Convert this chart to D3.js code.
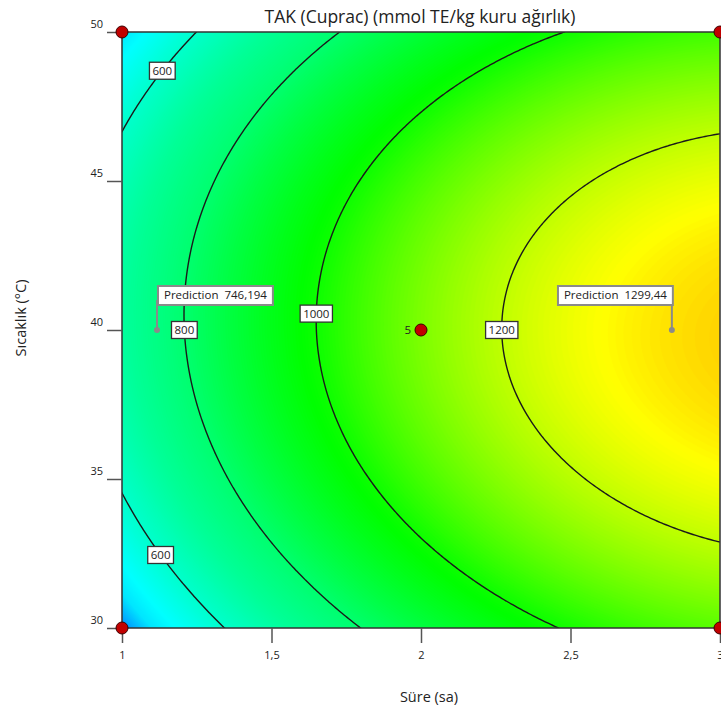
<!DOCTYPE html>
<meta charset="utf-8">
<script src="https://cdn.jsdelivr.net/npm/d3@7"></script>
<style>
  body { margin: 0; background: #fff; }
  text { font-family: "Open Sans", sans-serif; fill: #222; }
</style>
<div id="chart"></div>
<script>

// quadratic model, coded units A = (time - 2), B = (temp - 40) / 10
// order: b0, A, B, AB, A^2, B^2
var coefs = [1124.5, 312.75, 8, -21, -122.9, -244];
var levels = [600, 800, 1000, 1200];
var xTicks = [1, 1.5, 2, 2.5, 3];
var yTicks = [30, 35, 40, 45, 50];

// design points (time, temp); the centre point has 5 runs
var designTime = [1, 1, 3, 3, 2];
var designTemp = [30, 50, 30, 50, 40];
var centerRuns = "5";

// contour labels: level and the temperature where the label sits
var labelLevels = [600, 600, 800, 1000, 1200];
var labelTemps = [48.7, 32.45, 40, 40.55, 40];

// prediction flags
var predTime = [1.117, 2.839];
var predTemp = [40, 40];
var predText = ["746,194", "1299,44"];

// colour stops (response value -> hue)
var colorVals = [416, 474, 600, 700, 800, 1000, 1200, 1314];
var colorHues = [208, 186, 168, 156, 146, 117, 75, 50];

var W = 721, H = 713;
var svg = d3.select("#chart").append("svg")
    .attr("width", W).attr("height", H);

var x = d3.scaleLinear().domain([1, 3]).range([122, 720]);
var y = d3.scaleLinear().domain([30, 50]).range([628, 32]);

function model(t, c) {
  var A = t - 2, B = (c - 40) / 10;
  return coefs[0] + coefs[1] * A + coefs[2] * B + coefs[3] * A * B + coefs[4] * A * A + coefs[5] * B * B;
}

var hue = d3.scaleLinear().domain(colorVals).range(colorHues).clamp(true);
function color(v) { return d3.hsl(hue(v), 1, 0.5).toString(); }

// grid of model values
var n = 200;
var grid = new Array(n * n);
for (var j = 0; j < n; j++) {
  for (var i = 0; i < n; i++) {
    grid[j * n + i] = model(1 + i * 2 / (n - 1), 50 - j * 20 / (n - 1));
  }
}
var path = d3.geoPath(d3.geoTransform({
  point: function(px, py) {
    this.stream.point(x(1 + (px - 0.5) * 2 / (n - 1)), y(50 - (py - 0.5) * 20 / (n - 1)));
  }
}));

svg.append("clipPath").attr("id", "plotclip")
  .append("rect")
    .attr("x", x(1)).attr("y", y(50))
    .attr("width", x(3) - x(1)).attr("height", y(30) - y(50));

var plot = svg.append("g").attr("clip-path", "url(#plotclip)");

// filled surface
var bands = d3.range(400, 1320, 4);
plot.append("g")
  .selectAll("path")
  .data(d3.contours().size([n, n]).thresholds(bands)(grid))
  .enter().append("path")
    .attr("d", path)
    .attr("fill", function(d) { return color(d.value + 2); })
    .attr("stroke", function(d) { return color(d.value + 2); })
    .attr("stroke-width", 0.5);

// contour lines
plot.append("g")
  .selectAll("path")
  .data(d3.contours().size([n, n]).thresholds(levels)(grid))
  .enter().append("path")
    .attr("d", path)
    .attr("fill", "none")
    .attr("stroke", "#1a1a1a")
    .attr("stroke-width", 1.4);

// plot border
svg.append("rect")
  .attr("x", x(1)).attr("y", y(50))
  .attr("width", x(3) - x(1)).attr("height", y(30) - y(50))
  .attr("fill", "none").attr("stroke", "#333").attr("stroke-width", 1.5);

// axes
var xAxis = svg.append("g")
  .attr("transform", "translate(0," + y(30) + ")")
  .call(d3.axisBottom(x).tickValues(xTicks).tickSize(15).tickPadding(8)
    .tickFormat(function(d) { return String(d).replace(".", ","); }));
var yAxis = svg.append("g")
  .attr("transform", "translate(" + x(1) + ",0)")
  .call(d3.axisLeft(y).tickValues(yTicks).tickSize(15).tickPadding(4));
[xAxis, yAxis].forEach(function(a) {
  a.select(".domain").remove();
  a.selectAll(".tick line").attr("stroke", "#555").attr("stroke-width", 1.5);
  a.selectAll(".tick text").style("font-family", "Open Sans").style("font-size", "11px").attr("fill", "#222");
});
yAxis.selectAll(".tick text").attr("y", -8);

// contour labels
function solveTime(level, temp) {
  var lo = 1, hi = 3;
  for (var k = 0; k < 50; k++) {
    var mid = (lo + hi) / 2;
    if (model(mid, temp) < level) lo = mid; else hi = mid;
  }
  return (lo + hi) / 2;
}
labelLevels.forEach(function(lv, k) {
  var cx = x(solveTime(lv, labelTemps[k])), cy = y(labelTemps[k]);
  var g = svg.append("g");
  var t = g.append("text").attr("x", cx).attr("y", cy)
    .attr("text-anchor", "middle").attr("dy", "0.35em")
    .style("font-size", "11.5px").text(lv);
  var w = t.node().getComputedTextLength() + 6;
  g.insert("rect", "text")
    .attr("x", cx - w / 2).attr("y", cy - 8.5)
    .attr("width", w).attr("height", 17)
    .attr("fill", "#fff").attr("stroke", "#333").attr("stroke-width", 1.3);
});

// design points
svg.append("g").selectAll("circle")
  .data(designTime)
  .enter().append("circle")
    .attr("cx", function(d) { return x(d); })
    .attr("cy", function(d, k) { return y(designTemp[k]); })
    .attr("r", 6)
    .attr("fill", "#c00000").attr("stroke", "#3a0000").attr("stroke-width", 1);
svg.append("text")
  .attr("x", x(2) - 10).attr("y", y(40)).attr("dy", "0.35em")
  .attr("text-anchor", "end").style("font-size", "11.5px")
  .text(centerRuns);

// prediction flags
predTime.forEach(function(tm, k) {
  var px = x(tm), py = y(predTemp[k]);
  var g = svg.append("g");
  g.append("line").attr("x1", px).attr("x2", px).attr("y1", py).attr("y2", py - 30)
    .attr("stroke", "#8a8a8a").attr("stroke-width", 2);
  g.append("circle").attr("cx", px).attr("cy", py).attr("r", 3).attr("fill", "#8a8a8a");
  var t = g.append("text").attr("y", py - 35).attr("dy", "0.35em")
    .style("font-size", "11.5px").style("white-space", "pre")
    .text("Prediction  " + predText[k]);
  var w = t.node().getComputedTextLength() + 12;
  var bx = k === 0 ? px + 1 : px + 1 - w;
  t.attr("x", bx + 6);
  g.insert("rect", "text")
    .attr("x", bx).attr("y", py - 44)
    .attr("width", w).attr("height", 19)
    .attr("fill", "#fff").attr("stroke", "#8a8a8a").attr("stroke-width", 2);
});

// titles
svg.append("text")
  .attr("x", 420).attr("y", 17).attr("dy", "0.35em")
  .attr("text-anchor", "middle").style("font-size", "17.5px")
  .text("TAK (Cuprac) (mmol TE/kg kuru ağırlık)");
svg.append("text")
  .attr("x", 429).attr("y", 697).attr("dy", "0.35em")
  .attr("text-anchor", "middle").style("font-size", "14.5px")
  .text("Süre (sa)");
svg.append("text")
  .attr("transform", "translate(21,318) rotate(-90)")
  .attr("dy", "0.35em")
  .attr("text-anchor", "middle").style("font-size", "14.5px")
  .text("Sıcaklık (°C)");

</script>
